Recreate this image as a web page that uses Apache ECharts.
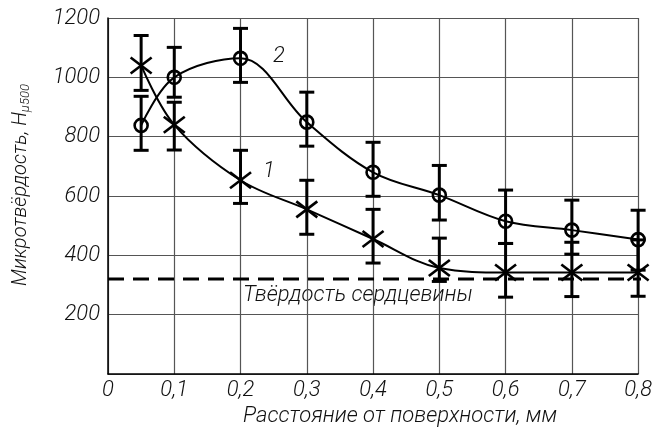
<!DOCTYPE html>
<html>
<head>
<meta charset="utf-8">
<script src="https://cdn.jsdelivr.net/npm/echarts@6/dist/echarts.min.js"></script>
<style>
html,body{margin:0;padding:0;background:#fff;}
#chart{width:655px;height:433px;}
</style>
</head>
<body>
<div id="chart"></div>
<script>
// ---- data ----
const xValues = [0.05, 0.1, 0.2, 0.3, 0.4, 0.5, 0.6, 0.7, 0.8];
const curve1 = [1040, 840, 653, 555, 455, 357, 342, 342, 342];
const curve1Low = [956, 755, 575, 471, 374, 312, 259, 261, 262];
const curve1High = [1141, 916, 754, 653, 555, 458, 440, 444, 452];
const curve2 = [838, 1000, 1064, 849, 680, 603, 515, 485, 453];
const curve2Low = [754, 933, 983, 768, 599, 519, 440, 404, 350];
const curve2High = [936, 1101, 1165, 950, 781, 703, 620, 586, 552];
const coreHardness = 320;
const xTicks = [0, 0.1, 0.2, 0.3, 0.4, 0.5, 0.6, 0.7, 0.8];
const yTicks = [0, 200, 400, 600, 800, 1000, 1200];
const xTitle = 'Расстояние от поверхности, мм';
const yTitle = 'Микротвёрдость, H';
const ySub = 'μ500';
const coreLabel = 'Твёрдость сердцевины';
const curveNames = ['1', '2'];

const FONT = 'Roboto, "DejaVu Sans", sans-serif';

const chart = echarts.init(document.getElementById('chart'), null, {renderer: 'canvas'});

function pts(vals) { return xValues.map((x, i) => [x, vals[i]]); }
function bars(vals, lo, hi) { return xValues.map((x, i) => [x, lo[i], hi[i], vals[i]]); }

function makeRender(marker) {
  return function (params, api) {
    const x = api.value(0);
    const pLo = api.coord([x, api.value(1)]);
    const pHi = api.coord([x, api.value(2)]);
    const p = api.coord([x, api.value(3)]);
    const capW = 7.5;
    const st = {stroke: '#000', lineWidth: 3};
    const children = [
      {type: 'line', shape: {x1: pLo[0], y1: pLo[1], x2: pHi[0], y2: pHi[1]}, style: st},
      {type: 'line', shape: {x1: pHi[0] - capW, y1: pHi[1], x2: pHi[0] + capW, y2: pHi[1]}, style: st},
      {type: 'line', shape: {x1: pLo[0] - capW, y1: pLo[1], x2: pLo[0] + capW, y2: pLo[1]}, style: st}
    ];
    if (marker === 'circle') {
      children.push({type: 'circle', shape: {cx: p[0], cy: p[1], r: 6.5}, style: {fill: 'none', stroke: '#000', lineWidth: 2.6}});
    } else {
      const hw = 10.5, hh = 8;
      children.push({type: 'line', shape: {x1: p[0] - hw, y1: p[1] - hh, x2: p[0] + hw, y2: p[1] + hh}, style: {stroke: '#000', lineWidth: 2.6}});
      children.push({type: 'line', shape: {x1: p[0] - hw, y1: p[1] + hh, x2: p[0] + hw, y2: p[1] - hh}, style: {stroke: '#000', lineWidth: 2.6}});
    }
    return {type: 'group', children: children};
  };
}

const labelFont = {fontFamily: FONT, fontStyle: 'italic', fontWeight: 300, fontSize: 22, color: '#111'};

chart.setOption({
  animation: false,
  backgroundColor: '#fff',
  grid: {left: 108, right: 6, top: 18, bottom: 59, containLabel: false},
  xAxis: {
    type: 'value', min: 0, max: 0.8, interval: 0.1,
    axisLine: {show: true, lineStyle: {color: '#000', width: 1.5}},
    axisTick: {show: false},
    splitLine: {show: true, lineStyle: {color: '#555', width: 1.2}},
    axisLabel: Object.assign({margin: 5, formatter: v => {
      const t = xTicks.find(k => Math.abs(k - v) < 1e-9);
      return t === undefined ? '' : String(t).replace('.', ',');
    }}, labelFont),
    name: xTitle, nameLocation: 'middle', nameGap: 31,
    nameTextStyle: Object.assign({padding: [0, 0, 0, 54]}, labelFont)
  },
  yAxis: {
    type: 'value', min: 0, max: 1200, interval: 200,
    axisLine: {show: true, lineStyle: {color: '#000', width: 1.5}},
    axisTick: {show: false},
    splitLine: {show: true, lineStyle: {color: '#555', width: 1.2}},
    axisLabel: Object.assign({margin: 8, formatter: v => (v === 0 || yTicks.indexOf(v) < 0) ? '' : String(v)}, labelFont),
    name: yTitle + '{sub|' + ySub + '}', nameLocation: 'middle', nameGap: 76,
    nameTextStyle: Object.assign({}, labelFont, {fontSize: 20, padding: [0, 0, 0, 22],
      rich: {sub: {fontFamily: FONT, fontStyle: 'italic', fontWeight: 300, fontSize: 13, color: '#111', padding: [10, 0, 0, 0], verticalAlign: 'bottom'}}
    })
  },
  series: [
    {
      type: 'line', data: [[0, coreHardness], [0.812, coreHardness]], showSymbol: false, clip: false,
      lineStyle: {color: '#000', width: 3, type: [16, 9]}, z: 2
    },
    {
      type: 'line', name: curveNames[0], data: pts(curve1), smooth: 0.35, showSymbol: false, clip: false,
      lineStyle: {color: '#000', width: 2}, z: 3
    },
    {
      type: 'line', name: curveNames[1], data: pts(curve2), smooth: 0.35, showSymbol: false, clip: false,
      lineStyle: {color: '#000', width: 2}, z: 3
    },
    {type: 'custom', data: bars(curve1, curve1Low, curve1High), renderItem: makeRender('cross'), clip: false, z: 4},
    {type: 'custom', data: bars(curve2, curve2Low, curve2High), renderItem: makeRender('circle'), clip: false, z: 4}
  ],
  graphic: [
    {type: 'text', left: 263, top: 160, style: {text: curveNames[0], fill: '#111', font: 'italic 300 22px ' + FONT}},
    {type: 'text', left: 273, top: 45, style: {text: curveNames[1], fill: '#111', font: 'italic 300 22px ' + FONT}},
    {type: 'text', left: 243, top: 284, style: {text: coreLabel, fill: '#111', font: 'italic 300 22px ' + FONT}}
  ]
});
</script>
</body>
</html>
